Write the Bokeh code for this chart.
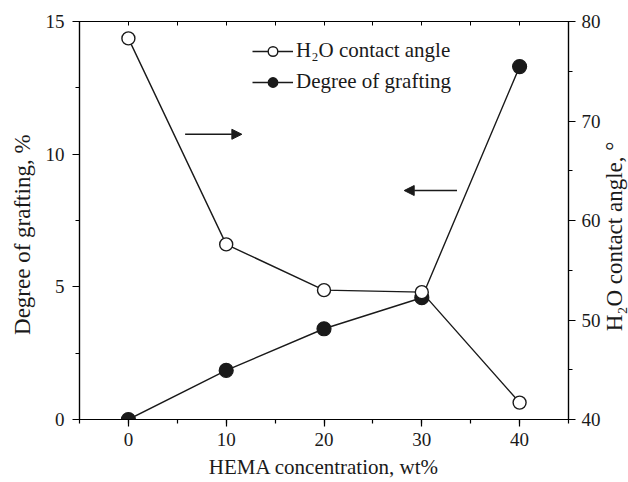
import math
from bokeh.plotting import figure
from bokeh.layouts import row
from bokeh.models import (Range1d, LinearAxis, SingleIntervalTicker, Legend, LegendItem,
                          Arrow, NormalHead)
from bokeh.core.properties import value
from bokeh.embed import file_html
from bokeh.resources import INLINE

# ---- data ----
hema = [0, 10, 20, 30, 40]
grafting = [0.0, 1.85, 3.42, 4.59, 13.3]
contact_angle = [78.3, 57.6, 53.0, 52.8, 41.7]

# arrow annotations (x0, x1, y on left axis)
arrow_right = (5.8, 11.6, 10.75)
arrow_left = (33.6, 28.2, 8.63)

x_title = "HEMA concentration, wt%"
y_title = "Degree of grafting, %"
y2_title = "H\u2082O contact angle, \u00b0"

FONT = "Liberation Serif"
TXT = "#1a1a1a"
H = 478

p = figure(frame_width=489, frame_height=398, output_backend="svg", toolbar_location=None,
           x_range=Range1d(-5, 45), y_range=Range1d(0, 15),
           min_border_left=43, min_border_right=32, min_border_top=21, min_border_bottom=59)
p.extra_y_ranges = {"ca": Range1d(40, 80)}
p.grid.visible = False
p.outline_line_color = "black"
p.outline_line_width = 1.2
p.background_fill_color = "white"
p.border_fill_color = "white"

def style_axis(ax, interval, minor):
    ax.ticker = SingleIntervalTicker(interval=interval, num_minor_ticks=minor)
    ax.major_tick_out = 7
    ax.major_tick_in = 0
    ax.minor_tick_out = 4
    ax.minor_tick_in = 0
    ax.axis_line_color = "black"
    ax.axis_line_width = 1.2
    ax.major_tick_line_width = 1.2
    ax.minor_tick_line_width = 1.2
    ax.major_label_text_font = FONT
    ax.major_label_text_font_size = "19px"
    ax.major_label_text_color = TXT
    ax.axis_label_text_font = FONT
    ax.axis_label_text_font_size = "21px"
    ax.axis_label_text_font_style = "normal"
    ax.axis_label_text_color = TXT

xa = p.xaxis[0]
style_axis(xa, 10, 2)
xa.axis_label = x_title
xa.major_label_standoff = 6
xa.axis_label_standoff = 6

ya = p.yaxis[0]
style_axis(ya, 5, 2)
ya.major_label_standoff = 8

ra = LinearAxis(y_range_name="ca")
style_axis(ra, 10, 2)
ra.major_label_standoff = 6
p.add_layout(ra, "right")

ta = LinearAxis()
ta.ticker = SingleIntervalTicker(interval=5, num_minor_ticks=0)
ta.major_tick_in = 4
ta.major_tick_out = 0
ta.minor_tick_in = 0
ta.minor_tick_out = 0
ta.major_label_text_color = None
ta.major_label_text_font_size = "1px"
ta.major_label_standoff = 0
ta.axis_line_color = "black"
ta.major_tick_line_width = 1
p.add_layout(ta, "above")

# lines
lg = p.line(hema, grafting, line_color="#1a1a1a", line_width=1.4)
lc = p.line(hema, contact_angle, y_range_name="ca", line_color="#1a1a1a", line_width=1.4)
# markers
sg = p.scatter(hema, grafting, size=14, marker="circle", fill_color="#1a1a1a",
               line_color="#1a1a1a", line_width=1.2)
sc = p.scatter(hema, contact_angle, y_range_name="ca", size=13, marker="circle",
               fill_color="white", line_color="#1a1a1a", line_width=1.4)

# arrows
head = dict(size=10, fill_color="#1a1a1a", line_color="#1a1a1a")
p.add_layout(Arrow(end=NormalHead(**head), x_start=arrow_right[0], x_end=arrow_right[1],
                   y_start=arrow_right[2], y_end=arrow_right[2],
                   line_width=1.4, line_color="#1a1a1a"))
p.add_layout(Arrow(end=NormalHead(**head), x_start=arrow_left[0], x_end=arrow_left[1],
                   y_start=arrow_left[2], y_end=arrow_left[2],
                   line_width=1.4, line_color="#1a1a1a"))

legend = Legend(items=[LegendItem(label="H\u2082O contact angle", renderers=[lc, sc]),
                       LegendItem(label="Degree of grafting", renderers=[lg, sg])],
                location=(173, 325), orientation="vertical",
                glyph_width=41, glyph_height=24, label_height=24, spacing=6,
                label_standoff=3, padding=0, margin=0,
                border_line_color=None, background_fill_alpha=0,
                label_text_font=FONT, label_text_font_size="21px", label_text_color=TXT)
p.add_layout(legend)

# narrow side strips carrying the two vertical axis titles (read bottom-to-top)
def title_strip(width, text, cx, cy):
    s = figure(width=width, height=H, output_backend="svg", toolbar_location=None,
               x_range=Range1d(0, width), y_range=Range1d(0, H),
               x_axis_location=None, y_axis_location=None,
               min_border_left=0, min_border_right=0, min_border_top=0, min_border_bottom=0)
    s.grid.visible = False
    s.outline_line_color = None
    s.background_fill_color = "white"
    s.border_fill_color = "white"
    s.text(x=[cx], y=[cy], text=[text], angle=math.pi / 2, text_align="center",
           text_baseline="middle", text_font=value(FONT), text_font_size=value("23px"),
           text_color=TXT)
    return s

left = title_strip(36, y_title, 22, H - 258)
right = title_strip(28, y2_title, 11, H - 260)

layout = row(left, p, right, spacing=0)
open("out.html", "w").write(file_html(layout, INLINE))
